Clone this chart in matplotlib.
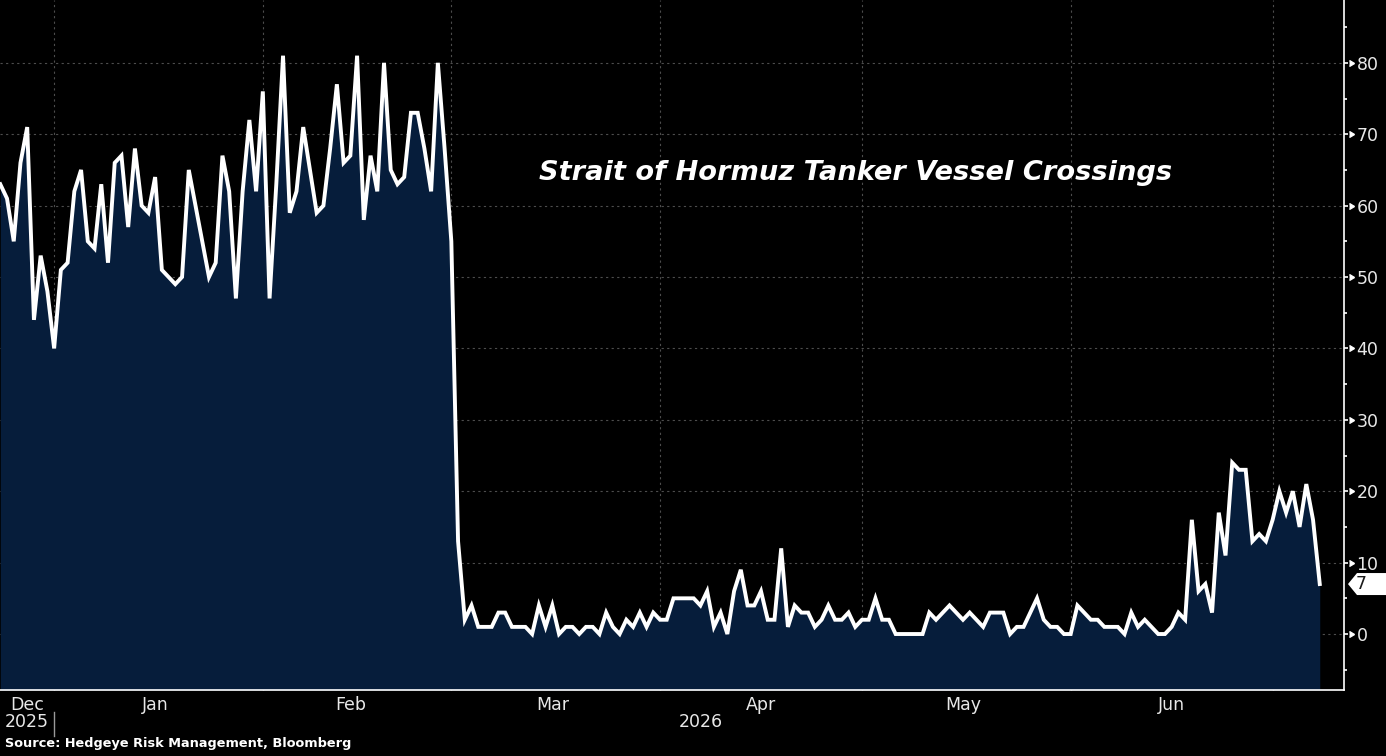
import pandas as pd
import matplotlib
matplotlib.use("Agg")
import matplotlib.pyplot as plt
from matplotlib.patches import Polygon
from matplotlib.transforms import blended_transform_factory


# ===== DATA =====
start_date = "2025-12-24"
crossings = [
    63, 61, 55, 66, 71, 44, 53, 48, 40, 51, 52, 62, 65, 55, 54, 63, 52, 66, 67, 57,
    68, 60, 59, 64, 51, 50, 49, 50, 65, 60, 55, 50, 52, 67,
    62, 47, 62, 72, 62, 76, 47, 63, 81, 59, 62, 71, 65, 59, 60, 68, 77, 66, 67, 81,
    58, 67, 62, 80, 65, 63, 64, 73, 73, 68, 62, 80, 68, 55,
    13, 2, 4, 1, 1, 1, 3, 3, 1, 1, 1, 0, 4, 1, 4, 0, 1, 1, 0, 1, 1, 0, 3, 1, 0, 2,
    1, 3, 1, 3, 2, 2,
    5, 5, 5, 5, 4, 6, 1, 3, 0, 6, 9, 4, 4, 6, 2, 2, 12, 1, 4, 3, 3, 1, 2, 4, 2, 2,
    3, 1, 2, 2, 5, 2, 2, 0,
    0, 0, 0, 0, 3, 2, 3, 4, 3, 2, 3, 2, 1, 3, 3, 3, 0, 1, 1, 3, 5, 2, 1, 1, 0, 0,
    4, 3, 2, 2, 1, 1, 1, 0,
    3, 1, 2, 1, 0, 0, 1, 3, 2, 16, 6, 7, 3, 17, 11, 24, 23, 23, 13, 14, 13, 16, 20,
    17, 20, 15, 21, 16, 7,
]
dates = pd.date_range(start_date, periods=len(crossings), freq="D")

month_starts = pd.to_datetime(["2026-01-01", "2026-02-01", "2026-03-01", "2026-04-01",
                               "2026-05-01", "2026-06-01", "2026-07-01"])
month_labels = ["Dec", "Jan", "Feb", "Mar", "Apr", "May", "Jun"]
month_label_dates = pd.to_datetime(["2025-12-28", "2026-01-16", "2026-02-14", "2026-03-16",
                                    "2026-04-16", "2026-05-16", "2026-06-16"])
year_labels = ["2025", "2026"]
year_label_dates = pd.to_datetime(["2025-12-28", "2026-04-07"])
y_major = [0, 10, 20, 30, 40, 50, 60, 70, 80]
y_minor = [-5, 5, 15, 25, 35, 45, 55, 65, 75, 85]

title = "Strait of Hormuz Tanker Vessel Crossings"
source = "Source: Hedgeye Risk Management, Bloomberg"

# ===== STYLE =====
bg = "#000000"
fill_color = "#061d3b"
grid_color = "#4d4d4d"
text_color = "#e8e8e8"
W, H = 1386, 756
label_size = 12.5

fig = plt.figure(figsize=(W / 100, H / 100), dpi=100, facecolor=bg)
ax = fig.add_axes([0, 66 / H, 1344 / W, 690 / H], facecolor=bg)

ymin, ymax = -7.84, 88.8
x_left = dates[0] - pd.Timedelta(hours=1)
x_right = dates[0] + pd.Timedelta(days=199.6)

ax.fill_between(dates, crossings, ymin, color=fill_color, lw=0, zorder=1)
ax.plot(dates, crossings, color="white", lw=2.8, solid_joinstyle="miter", zorder=3)

ax.set_xlim(x_left, x_right)
ax.set_ylim(ymin, ymax)

# ===== AXES =====
for side in ["left", "top"]:
    ax.spines[side].set_visible(False)
for side in ["right", "bottom"]:
    ax.spines[side].set_color("white")
    ax.spines[side].set_linewidth(1.2)

ax.yaxis.tick_right()
ax.set_yticks(y_major)
ax.set_yticks(y_minor, minor=True)
ax.tick_params(axis="y", which="major", direction="out", length=3, width=1.2,
               colors="white", labelcolor=text_color, labelsize=label_size, pad=6)
ax.tick_params(axis="y", which="minor", direction="out", length=2.5, width=1.2, colors="white")

# little arrow heads on the y ticks
ytrans = blended_transform_factory(ax.transAxes, ax.transData)
ax.plot([1 + 5 / 1344] * len(y_major), y_major, ls="none", marker=9, ms=5,
        color="white", transform=ytrans, clip_on=False)

ax.set_xticks(month_starts)
ax.set_xticklabels([])
ax.set_xticks(month_label_dates, minor=True)
ax.set_xticklabels(month_labels, minor=True)
ax.tick_params(axis="x", which="major", direction="in", length=4, width=1, colors="white")
ax.tick_params(axis="x", which="minor", length=0, labelcolor=text_color,
               labelsize=label_size, pad=4)

ax.grid(True, which="major", color=grid_color, linestyle=(0, (2, 3)), lw=0.8)
ax.set_axisbelow(True)

xtrans = blended_transform_factory(ax.transData, ax.transAxes)
for d, lab in zip(year_label_dates, year_labels):
    ax.text(d, -0.047, lab, transform=xtrans, ha="center", va="center",
            color=text_color, fontsize=label_size)
ax.plot([month_starts[0]] * 2, [-0.032, -0.066], color="#9a9a9a", lw=1,
        transform=xtrans, clip_on=False)

# ===== LAST VALUE TAG =====
last = crossings[-1]
tag_trans = blended_transform_factory(fig.transFigure, ax.transData)
half = 11 / 7.14
tag = Polygon([(1348 / W, last), (1357 / W, last + half), (1.0, last + half),
               (1.0, last - half), (1357 / W, last - half)],
              closed=True, facecolor="white", edgecolor="none",
              transform=tag_trans, clip_on=False, zorder=10)
ax.add_patch(tag)
ax.text(1356 / W, last, str(last), transform=tag_trans, ha="left", va="center",
        color="#1a1a1a", fontsize=label_size, zorder=11, clip_on=False)

# ===== TEXTS =====
fig.text(856 / W, 1 - 173 / H, title, ha="center", va="center", color="white",
         fontsize=19.6, fontweight="bold", fontstyle="italic")
fig.text(5 / W, 12 / H, source, ha="left", va="center", color="white",
         fontsize=9.3, fontweight="bold")

fig.savefig("out.png", dpi=100, facecolor=bg)
